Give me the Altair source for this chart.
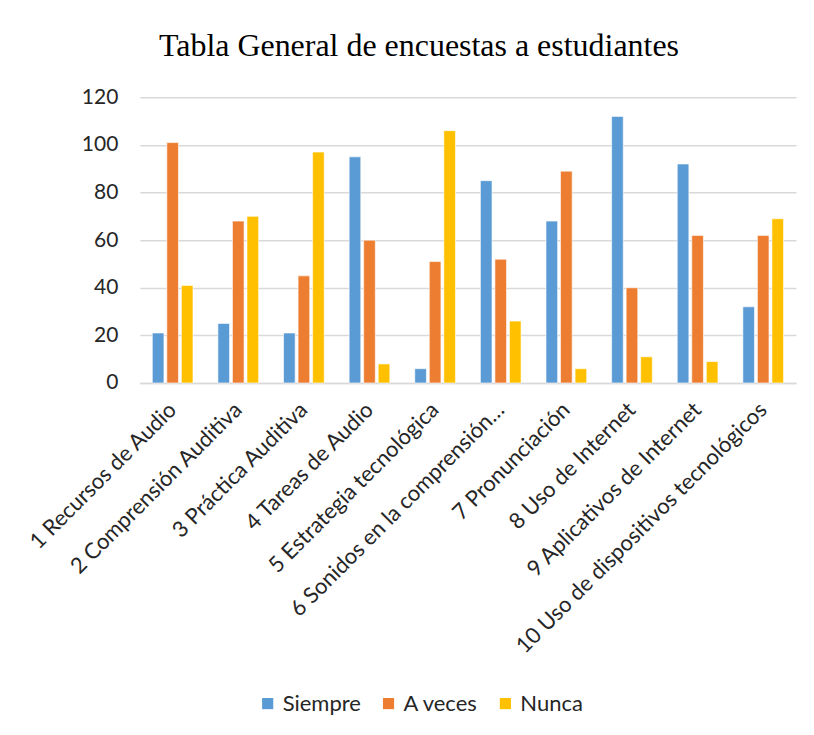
import altair as alt
import pandas as pd

categories = [
    "1 Recursos de Audio",
    "2 Comprensión Auditiva",
    "3 Práctica Auditiva",
    "4 Tareas de Audio",
    "5 Estrategia tecnológica",
    "6 Sonidos en la comprensión…",
    "7 Pronunciación",
    "8 Uso de Internet",
    "9 Aplicativos de Internet",
    "10 Uso de dispositivos tecnológicos",
]
series = ["Siempre", "A veces", "Nunca"]
siempre = [21, 25, 21, 95, 6, 85, 68, 112, 92, 32]
a_veces = [101, 68, 45, 60, 51, 52, 89, 40, 62, 62]
nunca = [41, 70, 97, 8, 106, 26, 6, 11, 9, 69]
colors = ["#5B9BD5", "#ED7D31", "#FFC000"]

rows = []
for name, vals in zip(series, [siempre, a_veces, nunca]):
    for c, v in zip(categories, vals):
        rows.append({"Categoria": c, "Serie": name, "Valor": v})
df = pd.DataFrame(rows)

font = "Lato"
text_color = "#262626"

chart = (
    alt.Chart(df)
    .mark_bar(stroke="white", strokeWidth=0.6)
    .encode(
        x=alt.X(
            "Categoria:N",
            sort=categories,
            title=None,
            scale=alt.Scale(paddingInner=0.38, paddingOuter=0.19),
            axis=alt.Axis(
                labelAngle=-45,
                labelAlign="right",
                labelBaseline="middle",
                labelFontSize=22,
                labelFont=font,
                labelColor=text_color,
                labelLimit=600,
                labelPadding=23,
                ticks=False,
                domainColor="#d9d9d9",
                domainWidth=1.5,
                grid=False,
            ),
        ),
        xOffset=alt.XOffset(
            "Serie:N", sort=series, scale=alt.Scale(paddingInner=0.2, paddingOuter=0)
        ),
        y=alt.Y(
            "Valor:Q",
            title=None,
            scale=alt.Scale(domain=[0, 120], nice=False),
            axis=alt.Axis(
                values=[0, 20, 40, 60, 80, 100, 120],
                labelFontSize=21,
                labelFont=font,
                labelColor=text_color,
                labelPadding=22,
                ticks=False,
                domain=False,
                gridColor="#d9d9d9",
                gridWidth=1.5,
            ),
        ),
        color=alt.Color(
            "Serie:N",
            sort=series,
            scale=alt.Scale(domain=series, range=colors),
            legend=alt.Legend(
                title=None,
                orient="none",
                direction="horizontal",
                legendX=117,
                legendY=596,
                symbolType="square",
                symbolSize=125,
                symbolStrokeWidth=0,
                symbolOpacity=1,
                labelFontSize=22,
                labelFont=font,
                labelColor=text_color,
                labelOffset=4,
                columnPadding=16,
            ),
        ),
    )
    .properties(
        width=657,
        height=286,
        title=alt.TitleParams(
            "Tabla General de encuestas a estudiantes",
            font="Liberation Serif",
            fontSize=32,
            fontWeight="normal",
            color="#000000",
            anchor="middle",
            dx=-49,
            offset=23,
        ),
        autosize=alt.AutoSizeParams(type="none"),
        padding={"left": 132, "top": 89, "right": 10, "bottom": 340},
    )
    .configure_view(stroke=None)
)

chart.save("out.html", embed_options={"renderer": "svg", "actions": False})
